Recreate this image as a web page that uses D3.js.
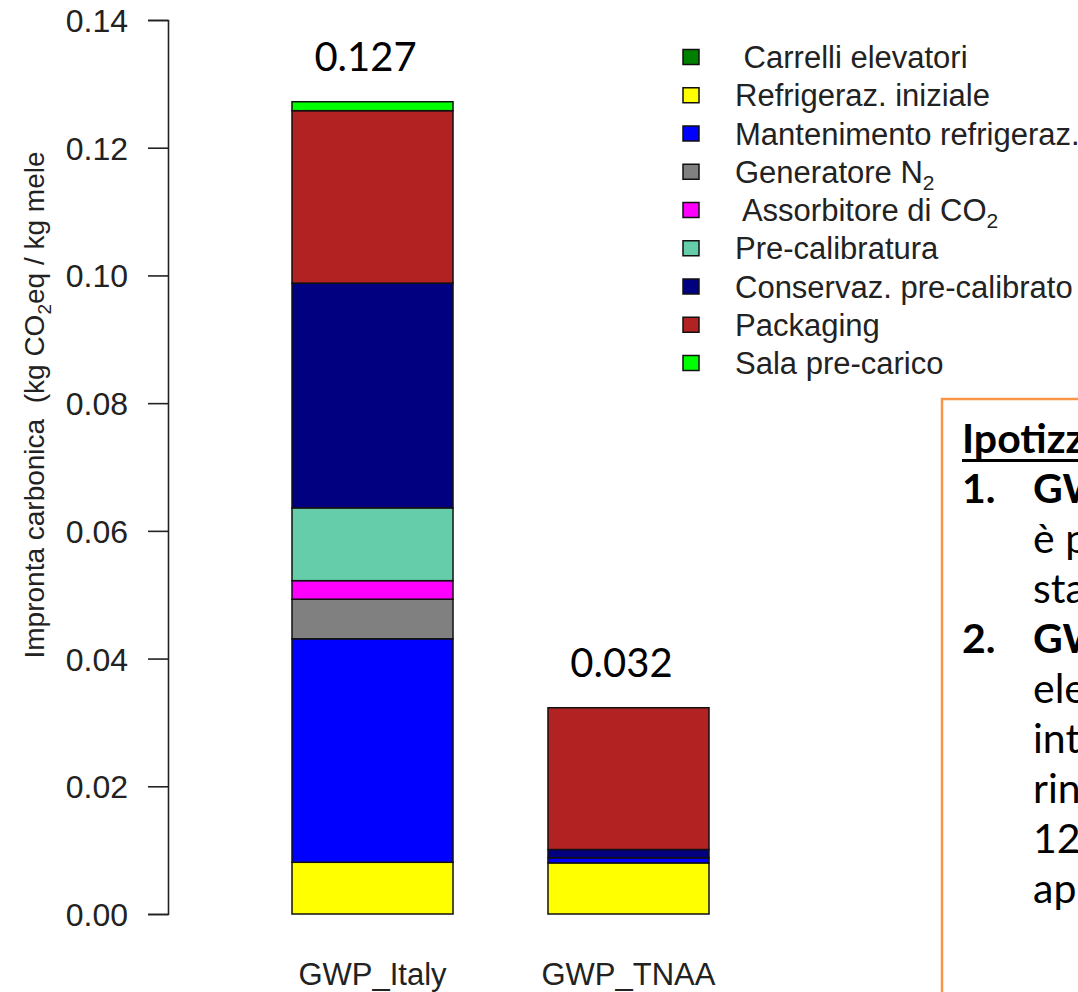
<!DOCTYPE html>
<html>
<head>
<meta charset="utf-8">
<script src="https://cdn.jsdelivr.net/npm/d3@7"></script>
<style>
  html, body { margin: 0; padding: 0; background: #fff; }
  svg { display: block; }
  text { white-space: pre; }
</style>
</head>
<body>
<svg id="chart" width="1078" height="992"></svg>
<script>
// ---------------- DATA ----------------
const categories = ["GWP_Italy", "GWP_TNAA"];
const components = [
  " Carrelli elevatori",
  "Refrigeraz. iniziale",
  "Mantenimento refrigeraz.",
  "Generatore N|2",
  " Assorbitore di CO|2",
  "Pre-calibratura",
  "Conservaz. pre-calibrato",
  "Packaging",
  "Sala pre-carico"
];
const componentColors = ["#008000", "#FFFF00", "#0000FF", "#808080", "#FF00FF", "#66CDAA", "#000080", "#B22222", "#00FF00"];
const valuesItaly = [0.0000, 0.0081, 0.0350, 0.0062, 0.0029, 0.0114, 0.0352, 0.0270, 0.0014];
const valuesTNAA  = [0.0000, 0.0080, 0.0008, 0.0000, 0.0000, 0.0000, 0.0013, 0.0222, 0.0000];
const totalLabels = ["0.127", "0.032"];
const yTicks = [0.00, 0.02, 0.04, 0.06, 0.08, 0.10, 0.12, 0.14];
const yTitleParts = ["Impronta carbonica  (kg CO", "2", "eq / kg mele"];
const noteLines = [
  { num: "",   text: "Ipotizza", bold: true, underline: true, indent: false },
  { num: "1.", text: "GWP",  bold: true,  indent: true },
  { num: "",   text: "è pa", bold: false, indent: true },
  { num: "",   text: "stat", bold: false, indent: true },
  { num: "2.", text: "GWP",  bold: true,  indent: true },
  { num: "",   text: "elet", bold: false, indent: true },
  { num: "",   text: "inte", bold: false, indent: true },
  { num: "",   text: "rinn", bold: false, indent: true },
  { num: "",   text: "12",   bold: false, indent: true },
  { num: "",   text: "app",  bold: false, indent: true }
];

// ---------------- LAYOUT ----------------
const svg = d3.select("#chart");
const axisFont = "'Liberation Sans', Arial, sans-serif";
const noteFont = "Lato, 'Open Sans', sans-serif";

const y = d3.scaleLinear().domain([0, 0.14]).range([914, 20]);
const x = d3.scaleBand().domain(categories).range([292, 709]).paddingInner(0.371).paddingOuter(0);

// stacked data table
const table = categories.map((c, i) => {
  const vals = i === 0 ? valuesItaly : valuesTNAA;
  const row = { cat: c };
  components.forEach((k, j) => row[k] = vals[j]);
  return row;
});
const stack = d3.stack().keys(components)(table);

// bars
const layers = svg.append("g").selectAll("g").data(stack).join("g")
  .attr("fill", (d, i) => componentColors[i]);
layers.selectAll("rect").data(d => d).join("rect")
  .attr("x", d => x(d.data.cat))
  .attr("width", x.bandwidth())
  .attr("y", d => y(d[1]))
  .attr("height", d => y(d[0]) - y(d[1]))
  .attr("stroke", "#111")
  .attr("stroke-width", 1.5);

// total labels
svg.append("g").selectAll("text").data(categories).join("text")
  .attr("x", d => x(d) + x.bandwidth() / 2 - 7)
  .attr("y", (d, i) => {
    const tot = d3.sum(i === 0 ? valuesItaly : valuesTNAA);
    return y(tot) - 31;
  })
  .attr("text-anchor", "middle")
  .attr("font-family", noteFont)
  .attr("font-size", 40)
  .attr("fill", "#000")
  .text((d, i) => totalLabels[i]);

// y axis
const yAxis = d3.axisLeft(y).tickValues(yTicks).tickFormat(d3.format(".2f")).tickSize(20).tickPadding(20);
const gy = svg.append("g").attr("transform", "translate(168,0)").call(yAxis);
gy.select(".domain").attr("stroke", "#222").attr("stroke-width", 1.6);
gy.selectAll(".tick line").attr("stroke", "#222").attr("stroke-width", 1.6);
gy.selectAll(".tick text").attr("font-family", axisFont).attr("font-size", 32).attr("fill", "#222").attr("dy", "0.36em");

// x category labels
svg.append("g").selectAll("text").data(categories).join("text")
  .attr("x", d => x(d) + x.bandwidth() / 2)
  .attr("y", 985)
  .attr("text-anchor", "middle")
  .attr("font-family", axisFont)
  .attr("font-size", 31)
  .attr("fill", "#222")
  .text(d => d);

// y title
const yt = svg.append("text")
  .attr("transform", "translate(44,405) rotate(-90)")
  .attr("text-anchor", "middle")
  .attr("font-family", axisFont)
  .attr("font-size", 28)
  .attr("fill", "#222");
yt.append("tspan").text(yTitleParts[0]);
yt.append("tspan").attr("font-size", 19).attr("dy", 7).text(yTitleParts[1]);
yt.append("tspan").attr("dy", -7).text(yTitleParts[2]);

// legend
const legendY = d3.scalePoint().domain(components).range([57, 363]);
const lg = svg.append("g");
lg.selectAll("rect").data(components).join("rect")
  .attr("x", 683)
  .attr("y", d => legendY(d) - 7.5)
  .attr("width", 16)
  .attr("height", 15)
  .attr("fill", (d, i) => componentColors[i])
  .attr("stroke", "#111")
  .attr("stroke-width", 1.5);
lg.selectAll("text").data(components).join("text")
  .attr("x", 735)
  .attr("y", d => legendY(d) + 11)
  .attr("font-family", axisFont)
  .attr("font-size", 31)
  .attr("fill", "#222")
  .each(function (d) {
    const parts = d.split("|");
    const t = d3.select(this);
    t.append("tspan").text(parts[0]);
    if (parts.length > 1) {
      t.append("tspan").attr("font-size", 21).attr("dy", 7).text(parts[1]);
    }
  });

// note box (cut at right and bottom edges)
svg.append("rect")
  .attr("x", 942).attr("y", 399)
  .attr("width", 300).attr("height", 700)
  .attr("fill", "none")
  .attr("stroke", "#F79646")
  .attr("stroke-width", 2.5);

const noteY = d3.scaleLinear().domain([0, noteLines.length - 1]).range([453, 903]);
const ng = svg.append("g").attr("font-family", noteFont).attr("font-size", 41).attr("fill", "#000");
noteLines.forEach((ln, i) => {
  if (ln.num) {
    ng.append("text").attr("x", 962).attr("y", noteY(i)).attr("font-weight", "bold").text(ln.num);
  }
  ng.append("text")
    .attr("x", ln.indent ? 1033 : 962)
    .attr("y", noteY(i))
    .attr("font-weight", ln.bold ? "bold" : "normal")
    .text(ln.text);
  if (ln.underline) {
    ng.append("rect").attr("x", 962).attr("y", noteY(i) + 6).attr("width", 200).attr("height", 3).attr("fill", "#000");
  }
});
</script>
</body>
</html>
